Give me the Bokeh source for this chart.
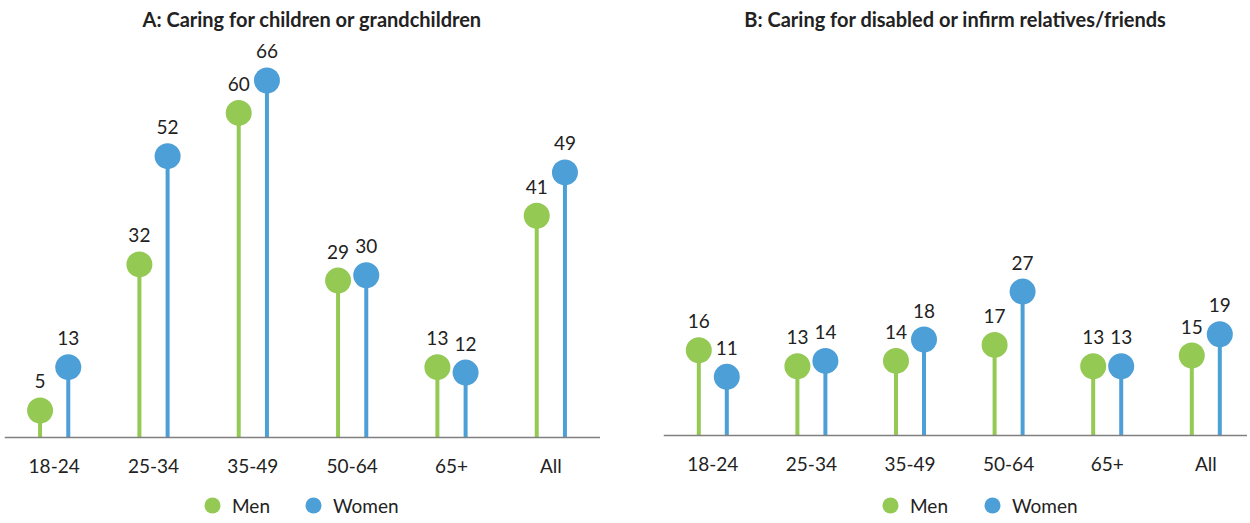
from bokeh.plotting import figure
from bokeh.layouts import row
from bokeh.models import Range1d, FixedTicker, Legend, LegendItem, ColumnDataSource
from bokeh.embed import file_html
from bokeh.resources import INLINE

categories = ["18-24", "25-34", "35-49", "50-64", "65+", "All"]
men_children = [5, 32, 60, 29, 13, 41]
women_children = [13, 52, 66, 30, 12, 49]
men_disabled = [16, 13, 14, 17, 13, 15]
women_disabled = [11, 14, 18, 27, 13, 19]

title_a = "A: Caring for children or grandchildren"
title_b = "B: Caring for disabled or infirm relatives/friends"

GREEN = "#94C954"
BLUE = "#4D9FD7"
FONT = "Lato"
TXT = "#222222"
OFFSET = 0.142


def panel(title, men, women, width, x_rng, y_rng, title_align, title_offset, border_left,
          legend_x, legend_spacing):
    p = figure(width=width, height=515,
               x_range=Range1d(x_rng[0], x_rng[1]), y_range=Range1d(y_rng[0], y_rng[1]),
               output_backend="svg", toolbar_location=None,
               min_border_left=border_left, min_border_right=0, min_border_top=0,
               min_border_bottom=0)
    p.title.text = title
    p.title.align = title_align
    p.title.text_font = FONT
    p.title.text_font_size = "20px"
    p.title.text_font_style = "bold"
    p.title.text_color = TXT
    p.title.offset = title_offset
    p.title.standoff = 8
    p.outline_line_color = None
    p.grid.visible = False
    p.yaxis.visible = False
    idx = list(range(len(categories)))
    xm = [i + 0.5 - OFFSET for i in idx]
    xw = [i + 0.5 + OFFSET for i in idx]
    sm = ColumnDataSource(dict(x=xm, y=men, t=[str(v) for v in men]))
    sw = ColumnDataSource(dict(x=xw, y=women, t=[str(v) for v in women]))
    p.segment(x0="x", y0=0, x1="x", y1="y", source=sm, line_color=GREEN, line_width=4)
    p.segment(x0="x", y0=0, x1="x", y1="y", source=sw, line_color=BLUE, line_width=4)
    rm = p.scatter("x", "y", source=sm, size=26, fill_color=GREEN, line_color=None)
    rw = p.scatter("x", "y", source=sw, size=26, fill_color=BLUE, line_color=None)
    for s in (sm, sw):
        p.text("x", "y", text="t", source=s, text_align="center", text_baseline="middle",
               y_offset=-29, text_font_size="19px", text_color=TXT, text_font={"value": FONT})
    ax = p.xaxis[0]
    ax.fixed_location = 0
    ax.ticker = FixedTicker(ticks=[i + 0.5 for i in idx])
    ax.major_label_overrides = {i + 0.5: c for i, c in zip(idx, categories)}
    ax.major_tick_line_color = None
    ax.minor_tick_line_color = None
    ax.axis_line_color = "#808080"
    ax.axis_line_width = 1.5
    ax.major_label_text_font = FONT
    ax.major_label_text_font_size = "19px"
    ax.major_label_text_color = TXT
    ax.major_label_standoff = 10
    legend = Legend(items=[LegendItem(label="Men", renderers=[rm]),
                           LegendItem(label="Women", renderers=[rw])],
                    orientation="horizontal", location=(legend_x, -10),
                    label_text_font=FONT, label_text_font_size="19px", label_text_color=TXT,
                    glyph_width=40, glyph_height=40, spacing=legend_spacing, label_standoff=0,
                    border_line_color=None, background_fill_alpha=0, margin=0, padding=0)
    p.add_layout(legend, "center")
    return p


pa = panel(title_a, men_children, women_children, 600, (0.0, 6.0),
           (-78 / 5.41, 403 / 5.41), "left", 138, 4, 188, 23)
pb = panel(title_b, men_disabled, women_disabled, 584, (0.0, 584 / 98.6),
           (-80 / 5.33, 401 / 5.33), "center", 0, 0, 207, 24)
layout = row(pa, pb, spacing=63)
open("out.html", "w").write(file_html(layout, INLINE))
